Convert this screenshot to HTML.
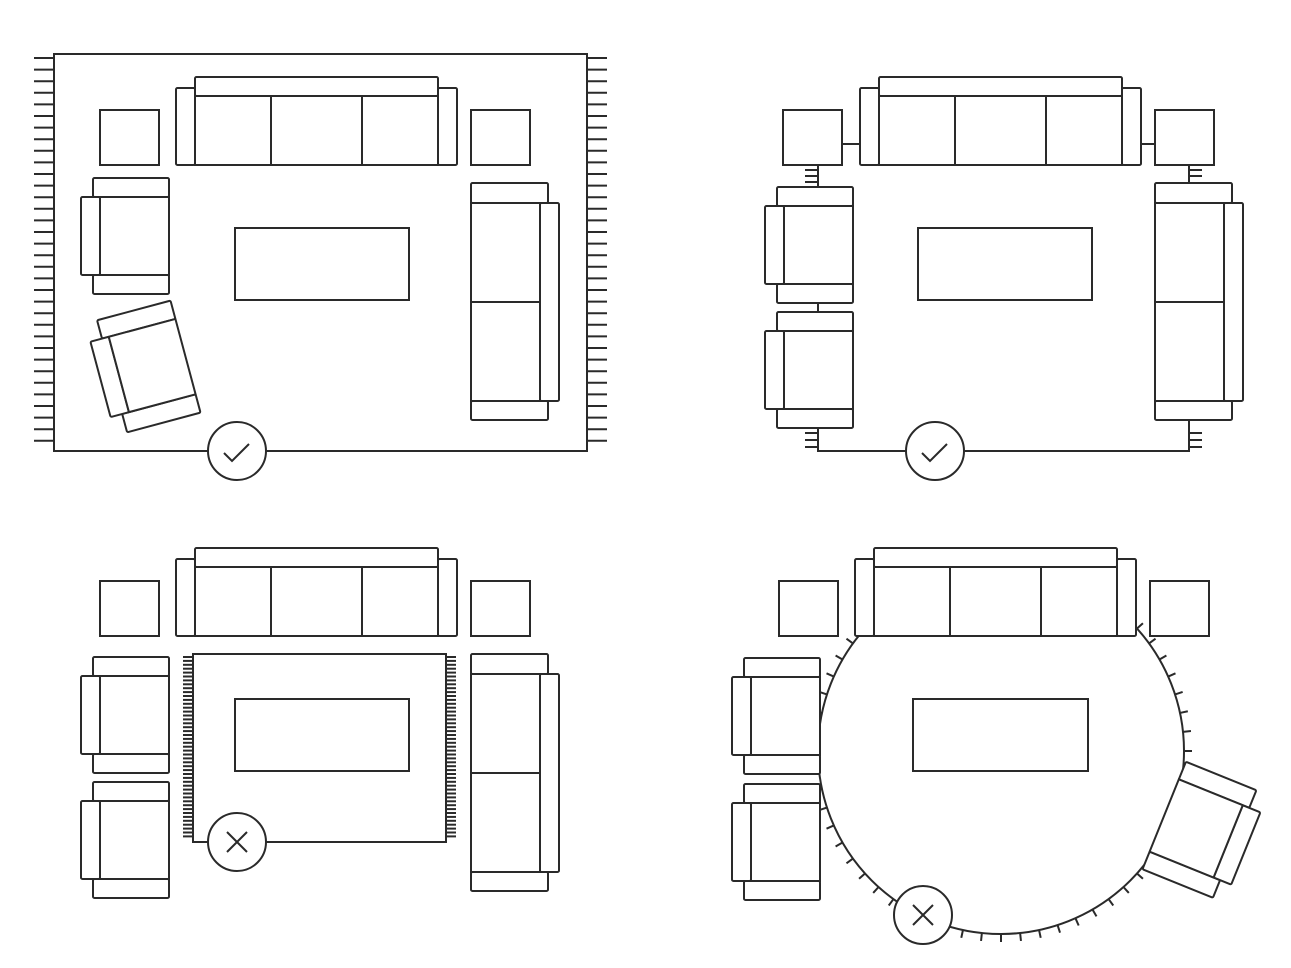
<!DOCTYPE html>
<html><head><meta charset="utf-8"><style>html,body{margin:0;padding:0;background:#fff}svg{display:block}</style></head>
<body>
<svg id="s" width="1291" height="968" viewBox="0 0 1291 968" xmlns="http://www.w3.org/2000/svg">
<defs>
<g id="chair">
<rect x="-32" y="-58" width="76" height="19" rx="1.5"/>
<rect x="-32" y="39" width="76" height="19" rx="1.5"/>
<rect x="-44" y="-39" width="19" height="78" rx="1.5"/>
<rect x="-25" y="-39" width="69" height="78"/>
</g>
<g id="sofa3">
<rect x="0" y="11" width="19" height="77" rx="1.5"/>
<rect x="262" y="11" width="19" height="77" rx="1.5"/>
<rect x="19" y="0" width="243" height="19" rx="1.5"/>
<rect x="19" y="19" width="243" height="69"/>
<line x1="95" y1="19" x2="95" y2="88"/>
<line x1="186" y1="19" x2="186" y2="88"/>
</g>
<g id="sofa2">
<rect x="0" y="0" width="77" height="20" rx="1.5"/>
<rect x="0" y="218" width="77" height="19" rx="1.5"/>
<rect x="69" y="20" width="19" height="198" rx="1.5"/>
<rect x="0" y="20" width="69" height="198"/>
<line x1="0" y1="119" x2="69" y2="119"/>
</g>
</defs>
<g id="root" fill="#fff" stroke="#2a2a2a" stroke-width="2">
<!-- Panel 1 -->
<g id="fr1"></g>
<rect x="54" y="54" width="533" height="397" fill="none"/>
<rect x="100" y="110" width="59" height="55"/>
<rect x="471" y="110" width="59" height="55"/>
<use href="#sofa3" x="176" y="77"/>
<use href="#chair" transform="translate(125,236)"/>
<use href="#chair" transform="translate(143,368) rotate(-15)"/>
<use href="#sofa2" x="471" y="183"/>
<rect x="235" y="228" width="174" height="72"/>
<circle cx="237" cy="451" r="29"/>
<path d="M224 453 L232 461 L249 444" fill="none"/>

<!-- Panel 2 -->
<path d="M818 165 V187 M818 303 V312 M818 428 V451 H1189 V420 M1189 165 V183 M842 144 H860 M1140 144 H1155" fill="none"/>
<path d="M805 170 H818 M805 176 H818 M805 182 H818 M805 433 H818 M805 440 H818 M805 447 H818 M1189 170 H1202 M1189 176 H1202 M1189 433 H1202 M1189 440 H1202 M1189 447 H1202" fill="none"/>
<rect x="783" y="110" width="59" height="55"/>
<rect x="1155" y="110" width="59" height="55"/>
<use href="#sofa3" x="860" y="77"/>
<use href="#chair" transform="translate(809,245)"/>
<use href="#chair" transform="translate(809,370)"/>
<use href="#sofa2" x="1155" y="183"/>
<rect x="918" y="228" width="174" height="72"/>
<circle cx="935" cy="451" r="29"/>
<path d="M922 453 L930 461 L947 444" fill="none"/>

<!-- Panel 3 -->
<g id="fr3"></g>
<rect x="193" y="654" width="253" height="188"/>
<rect x="100" y="581" width="59" height="55"/>
<rect x="471" y="581" width="59" height="55"/>
<use href="#sofa3" x="176" y="548"/>
<use href="#chair" transform="translate(125,715)"/>
<use href="#chair" transform="translate(125,840)"/>
<use href="#sofa2" x="471" y="654"/>
<rect x="235" y="699" width="174" height="72"/>
<circle cx="237" cy="842" r="29"/>
<path d="M227 832 L247 852 M247 832 L227 852" fill="none"/>

<!-- Panel 4 -->
<g id="fr4"></g>
<circle cx="1001" cy="751" r="183"/>
<rect x="779" y="581" width="59" height="55"/>
<rect x="1150" y="581" width="59" height="55"/>
<use href="#sofa3" x="855" y="548"/>
<use href="#chair" transform="translate(776,716)"/>
<use href="#chair" transform="translate(776,842)"/>
<use href="#chair" transform="translate(1205,832) rotate(22) scale(-1,1)"/>
<rect x="913" y="699" width="175" height="72"/>
<circle cx="923" cy="915" r="29"/>
<path d="M913 905 L933 925 M933 905 L913 925" fill="none"/>
</g>
</svg>
<script>
(function(){
var NS="http://www.w3.org/2000/svg";
function ln(g,x1,y1,x2,y2){var l=document.createElementNS(NS,"line");l.setAttribute("x1",x1);l.setAttribute("y1",y1);l.setAttribute("x2",x2);l.setAttribute("y2",y2);g.appendChild(l);}
var g1=document.getElementById("fr1");
for(var y=58;y<=447;y+=11.6){ln(g1,34,y,54,y);ln(g1,587,y,607,y);}
var g3=document.getElementById("fr3");
for(var y=657;y<=840;y+=3.9){ln(g3,183,y,193,y);ln(g3,446,y,456,y);}
var g4=document.getElementById("fr4");
for(var a=0;a<360;a+=6){var r=a*Math.PI/180,c=Math.cos(r),s=Math.sin(r);
ln(g4,1001+183*c,751+183*s,1001+191*c,751+191*s);}
})();
</script>
</body></html>
